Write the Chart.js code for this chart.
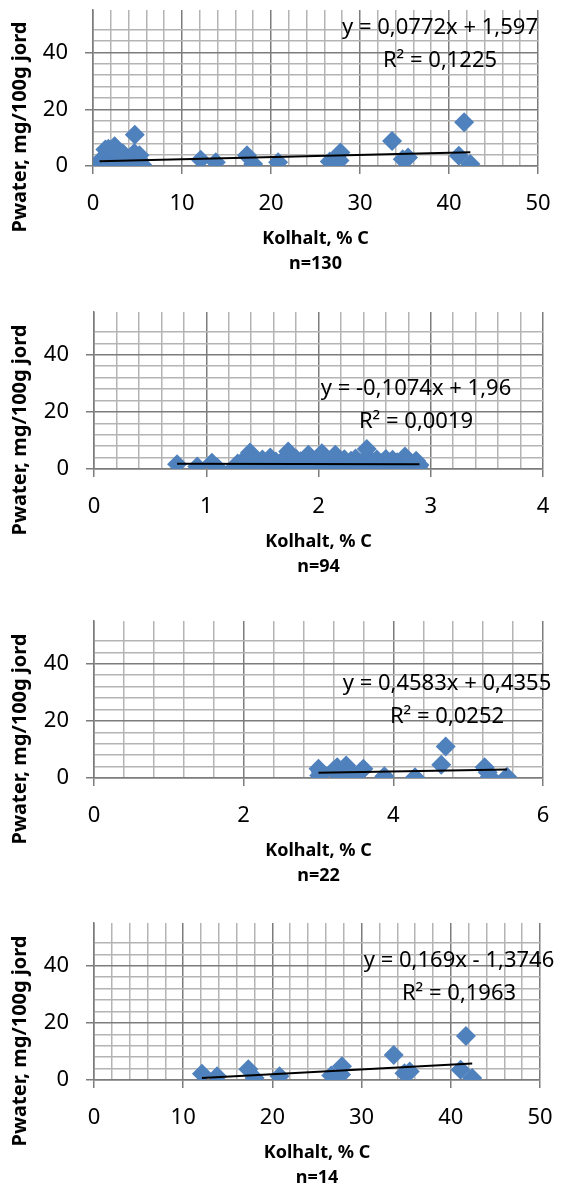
<!DOCTYPE html>
<html lang="sv">
<head>
<meta charset="UTF-8">
<title>Pwater mot kolhalt</title>
<script src="https://cdn.jsdelivr.net/npm/chart.js@4"></script>
<style>
  body { margin: 0; background: #fff; }
  #wrap { position: relative; width: 566px; height: 1189px; overflow: hidden; }
  #wrap canvas { position: absolute; left: 0; }
</style>
</head>
<body>
<div id="wrap">
  <canvas id="c0" width="566" height="300" style="top:0px"></canvas>
  <canvas id="c1" width="566" height="305" style="top:300px"></canvas>
  <canvas id="c2" width="566" height="300" style="top:605px"></canvas>
  <canvas id="c3" width="566" height="284" style="top:905px"></canvas>
</div>
<script>
// kolhalt 0.7-3 % C (n=94)
const lowX = [0.74, 0.92, 1.05, 1.10, 1.26, 1.28, 1.30, 1.33, 1.35, 1.36, 1.39, 1.41, 1.44, 1.46, 1.47, 1.50,
  1.52, 1.55, 1.57, 1.58, 1.60, 1.62, 1.64, 1.66, 1.68, 1.70, 1.72, 1.73, 1.75, 1.77, 1.79, 1.80,
  1.82, 1.84, 1.86, 1.88, 1.90, 1.91, 1.93, 1.95, 1.97, 1.99, 2.00, 2.01, 2.03, 2.04, 2.06, 2.08,
  2.10, 2.12, 2.14, 2.15, 2.17, 2.19, 2.20, 2.21, 2.23, 2.25, 2.27, 2.29, 2.31, 2.33, 2.35, 2.37,
  2.39, 2.41, 2.43, 2.44, 2.45, 2.46, 2.48, 2.50, 2.52, 2.54, 2.56, 2.58, 2.60, 2.62, 2.64, 2.65,
  2.66, 2.68, 2.70, 2.72, 2.74, 2.76, 2.77, 2.79, 2.81, 2.83, 2.85, 2.87, 2.89, 2.90];
const lowY = [1.7, 0.9, 2.2, 0.4, 1.0, 1.9, 0.3, 3.0, 2.0, 1.2, 5.8, 0.6, 2.4, 0.9, 1.5, 3.3,
  0.8, 1.9, 4.0, 2.1, 1.1, 2.6, 0.3, 1.6, 2.9, 0.9, 4.5, 6.1, 1.3, 2.2, 0.5, 3.6,
  1.8, 2.7, 0.7, 1.4, 3.9, 5.0, 2.0, 0.4, 1.2, 2.8, 1.5, 0.9, 5.5, 1.7, 3.1, 0.6,
  2.3, 1.4, 4.1, 5.0, 0.8, 2.5, 0.2, 1.6, 3.4, 0.5, 1.9, 2.9, 1.1, 3.7, 0.7, 2.1,
  1.3, 3.0, 7.0, 1.8, 2.2, 0.6, 2.6, 1.5, 3.3, 0.9, 2.0, 1.2, 3.5, 0.4, 1.7, 2.5,
  3.2, 1.0, 2.4, 0.6, 1.9, 3.6, 4.4, 1.1, 2.7, 0.5, 1.6, 2.9, 0.8, 1.4];
// kolhalt 3-6 % C (n=22)
const midX = [3.00, 3.01, 3.03, 3.05, 3.20, 3.25, 3.30, 3.32, 3.37, 3.39, 3.45, 3.49, 3.56, 3.60,
  3.88, 4.29, 4.64, 4.70, 5.22, 5.26, 5.29, 5.52];
const midY = [3.2, 0.9, 2.1, 1.5, 2.6, 3.8, 1.2, 0.4, 4.4, 2.1, 1.6, 0.4, 2.1, 3.2,
  0.6, 0.3, 4.6, 11.0, 3.8, 2.0, 0.4, 0.4];
// kolhalt >10 % C (n=14)
const highX = [12.1, 13.8, 17.3, 18.0, 20.8, 26.6, 27.7, 27.8, 33.6, 34.8, 35.4, 41.1, 41.7, 42.4];
const highY = [2.2, 1.3, 3.8, 0.7, 1.3, 1.6, 1.9, 4.8, 8.8, 2.4, 3.0, 3.6, 15.4, 0.7];

const seriesX = [lowX.concat(midX, highX), lowX, midX, highX];
const seriesY = [lowY.concat(midY, highY), lowY, midY, highY];
const nLabels = ['n=130', 'n=94', 'n=22', 'n=14'];
const xMax = [50, 4, 6, 50];
const xMajor = [10, 1, 2, 10];
const xMinor = [2, 0.2, 0.4, 2];
const slopes = [0.0772, -0.1074, 0.4583, 0.169];
const intercepts = [1.597, 1.96, 0.4355, -1.3746];
const eqTexts = ['y = 0,0772x + 1,597', 'y = -0,1074x + 1,96', 'y = 0,4583x + 0,4355', 'y = 0,169x - 1,3746'];
const r2Texts = ['R² = 0,1225', 'R² = 0,0019', 'R² = 0,0252', 'R² = 0,1963'];

// canvas placement and plot areas (page pixels)
const panels = [
  { top: 0,   h: 300, area: [93, 9, 538, 166],    eq: [-98, 24] },
  { top: 300, h: 305, area: [94, 312, 543, 469],  eq: [-127, 83] },
  { top: 605, h: 300, area: [94, 621, 543, 778],  eq: [-96, 69] },
  { top: 905, h: 284, area: [94, 923, 540, 1080], eq: [-81, 44] }
];

const FONT = '"Noto Sans", "Open Sans", sans-serif';
const MAJOR = '#7c7c7c', MINOR = '#b4b4b4';
const isMult = (v, m) => Math.abs(v / m - Math.round(v / m)) < 1e-6;

const panelText = {
  id: 'panelText',
  afterDraw(chart, args, o) {
    const { ctx, chartArea: a } = chart;
    ctx.save();
    ctx.fillStyle = '#000';
    ctx.textAlign = 'center';
    ctx.textBaseline = 'middle';
    ctx.font = 'bold 18px ' + FONT;
    const cx = (a.left + a.right) / 2;
    ctx.fillText('Kolhalt, % C', cx, a.bottom + 73);
    ctx.fillText(o.n, cx, a.bottom + 98);
    ctx.save();
    ctx.font = 'bold 20px ' + FONT;
    ctx.translate(20, a.bottom - 39);
    ctx.rotate(-Math.PI / 2);
    ctx.fillText('Pwater, mg/100g jord', 0, 0);
    ctx.restore();
    ctx.font = '22px ' + FONT;
    ctx.textBaseline = 'alphabetic';
    ctx.fillText(o.eq, a.right + o.pos[0], a.top + o.pos[1]);
    ctx.fillText(o.r2, a.right + o.pos[0], a.top + o.pos[1] + 33);
    ctx.restore();
  }
};

panels.forEach((p, i) => {
  const xs = seriesX[i], ys = seriesY[i];
  const pts = xs.map((x, k) => ({ x: x, y: ys[k] }));
  const x0 = Math.min(...xs), x1 = Math.max(...xs);
  const trend = [{ x: x0, y: slopes[i] * x0 + intercepts[i] }, { x: x1, y: slopes[i] * x1 + intercepts[i] }];
  const [left, top, right, bottom] = p.area;

  new Chart(document.getElementById('c' + i), {
    type: 'scatter',
    data: {
      datasets: [
        { data: trend, showLine: true, borderColor: '#000', borderWidth: 2, pointRadius: 0, order: 0 },
        { data: pts, pointStyle: 'rectRot', pointRadius: 10, pointHoverRadius: 10,
          backgroundColor: '#4f81bd', borderColor: '#4f81bd', borderWidth: 0, order: 1 }
      ]
    },
    options: {
      responsive: false,
      animation: false,
      events: [],
      layout: { padding: { left: 0, top: top - p.top, right: 566 - right, bottom: 0 } },
      plugins: {
        legend: { display: false },
        tooltip: { enabled: false },
        panelText: { n: nLabels[i], eq: eqTexts[i], r2: r2Texts[i], pos: p.eq }
      },
      scales: {
        x: {
          type: 'linear', min: 0, max: xMax[i],
          afterFit: s => { s.height = p.top + p.h - bottom; s.paddingLeft = 0; s.paddingRight = 0; },
          border: { color: MAJOR, width: 1.5 },
          grid: {
            lineWidth: 1.5,
            color: c => isMult(c.tick.value, xMajor[i]) ? MAJOR : MINOR,
            tickColor: c => isMult(c.tick.value, xMajor[i]) ? MAJOR : 'rgba(0,0,0,0)',
            tickLength: 8
          },
          ticks: {
            stepSize: xMinor[i], autoSkip: false, maxRotation: 0, padding: 17,
            color: '#000', font: { family: FONT, size: 22 },
            callback: v => isMult(v, xMajor[i]) ? String(Math.round(v)) : ''
          }
        },
        y: {
          type: 'linear', min: 0, max: 55,
          afterFit: s => { s.width = left; s.paddingTop = 0; s.paddingBottom = 0; },
          border: { color: MAJOR, width: 1.5 },
          grid: {
            lineWidth: 1.5,
            color: c => isMult(c.tick.value, 20) ? MAJOR : (isMult(c.tick.value, 4) ? MINOR : 'rgba(0,0,0,0)'),
            tickColor: c => isMult(c.tick.value, 20) ? MAJOR : 'rgba(0,0,0,0)',
            tickLength: 8
          },
          ticks: {
            stepSize: 4, autoSkip: false, padding: 17,
            color: '#000', font: { family: FONT, size: 22 },
            callback: v => isMult(v, 20) ? String(v) : ''
          }
        }
      }
    },
    plugins: [panelText]
  });
});
</script>
</body>
</html>
